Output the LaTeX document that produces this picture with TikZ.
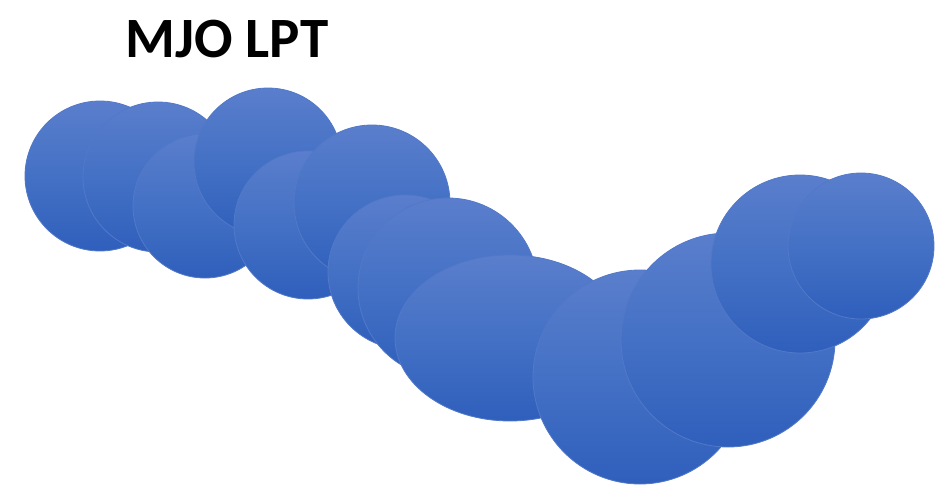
\documentclass[tikz,border=0pt]{standalone}
\usepackage{fontspec}
\setmainfont{Carlito}
\definecolor{blobtop}{HTML}{5A7ECC}
\definecolor{blobmid}{HTML}{4471C5}
\definecolor{blobbot}{HTML}{2F5FBC}
\definecolor{blobedge}{HTML}{5279C8}
\tikzset{
  blob/.style={top color=blobtop, bottom color=blobbot, middle color=blobmid,
               draw=blobedge, line width=0.8pt},
  titletext/.style={font=\bfseries\fontsize{57}{60}\selectfont, text=black,
                    inner sep=0pt, anchor=base}
}
\begin{document}
\begin{tikzpicture}[x=1pt, y=-1pt]
  \useasboundingbox (0,0) rectangle (935,491);
  \node[titletext] (title) at (227,57) {MJO LPT};
  % chain of blobs, drawn west to east so each one overlaps the previous
  \shade[blob] (100,176) circle (75);
  \shade[blob] (158,177) circle (75);
  \shade[blob] (205,206) circle (72);
  \shade[blob] (268,162) circle (74);
  \shade[blob] (308,225) circle (74);
  \shade[blob] (372,203) circle (78);
  \shade[blob] (405,272) circle (77);
  \shade[blob] (448,288) circle (90);
  \shade[blob] (510,338) ellipse [x radius=115, y radius=83];
  \shade[blob] (640,377) circle (107);
  \shade[blob] (728,340) circle (107);
  \shade[blob] (800,264) circle (89);
  \shade[blob] (861,246) circle (73);
\end{tikzpicture}
\end{document}
